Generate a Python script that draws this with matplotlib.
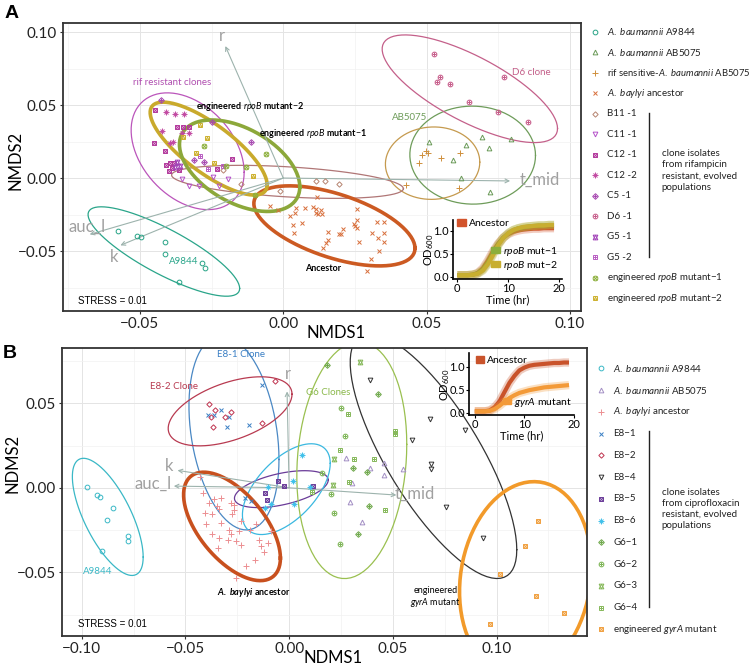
import matplotlib
matplotlib.use("Agg")
import matplotlib.pyplot as plt
import numpy as np
from matplotlib.patches import Patch
from matplotlib.ticker import FuncFormatter

plt.rcParams["font.family"] = ["Lato", "DejaVu Sans"]
plt.rcParams["mathtext.fontset"] = "custom"
plt.rcParams["mathtext.rm"] = "Lato"
plt.rcParams["mathtext.it"] = "Lato:italic"
plt.rcParams["mathtext.bf"] = "Lato:bold"
plt.rcParams["mathtext.bfit"] = "Lato:italic:bold"

# ---------------- panel A: NMDS scores (rifampicin) ----------------
a_a9844_x = [-0.0577, -0.0510, -0.0496, -0.0414, -0.0412, -0.0283, -0.0274, -0.0365]
a_a9844_y = [-0.0363, -0.0394, -0.0401, -0.0440, -0.0518, -0.0579, -0.0618, -0.0714]
a_ab5075_x = [0.0509, 0.0638, 0.0693, 0.0718, 0.0794, 0.0591, 0.0618, 0.0722]
a_ab5075_y = [0.0249, 0.0224, 0.0281, 0.0208, 0.0265, 0.0121, 0.0003, -0.0096]
a_rifsens_x = [0.0482, 0.0498, 0.0506, 0.0473, 0.0551, 0.0617, 0.0427, 0.0611]
a_rifsens_y = [0.0158, 0.0185, 0.0174, 0.0103, 0.0140, 0.0169, -0.0048, -0.0066]
a_anc_x = [0.0117, -0.0048, -0.0019, 0.0044, 0.0077, 0.0102, 0.0115, 0.0132, 0.0042, 0.0115,
           0.0135, 0.0120, 0.0022, 0.0065, 0.0033, 0.0036, 0.0257, 0.0257, 0.0251, 0.0245,
           0.0257, 0.0326, 0.0350, 0.0207, 0.0195, 0.0202, 0.0156, 0.0309, 0.0352, 0.0332,
           0.0156, 0.0150, 0.0265, 0.0352, 0.0138, 0.0334, 0.0307, 0.0292]
a_anc_y = [-0.0128, -0.0192, -0.0219, -0.0203, -0.0203, -0.0196, -0.0210, -0.0221, -0.0237, -0.0237,
           -0.0244, -0.0249, -0.0260, -0.0310, -0.0324, -0.0374, -0.0210, -0.0290, -0.0329, -0.0317,
           -0.0345, -0.0299, -0.0299, -0.0351, -0.0381, -0.0381, -0.0370, -0.0374, -0.0379, -0.0408,
           -0.0424, -0.0443, -0.0438, -0.0438, -0.0481, -0.0500, -0.0552, -0.0639]
a_b11_x = [-0.0210, -0.0146, -0.0010, 0.0113, 0.0146, 0.0195]
a_b11_y = [0.0053, -0.0039, -0.0089, -0.0018, -0.0023, -0.0041]
a_c11_x = [-0.0353, -0.0330, -0.0295, -0.0245, -0.0224, -0.0194]
a_c11_y = [-0.0005, -0.0055, -0.0055, 0.0007, -0.0055, -0.0005]
a_c12a_x = [-0.0446, -0.0370, -0.0351, -0.0330, -0.0449, -0.0413, -0.0408, -0.0394, -0.0382, -0.0388,
            -0.0365, -0.0400, -0.0179, -0.0231]
a_c12a_y = [0.0466, 0.0349, 0.0349, 0.0349, 0.0242, 0.0185, 0.0087, 0.0100, 0.0105, 0.0071,
            0.0053, 0.0048, 0.0132, 0.0064]
a_c12b_x = [-0.0408, -0.0376, -0.0347, -0.0423, -0.0353, -0.0328, -0.0394, -0.0386]
a_c12b_y = [0.0454, 0.0441, 0.0436, 0.0322, 0.0306, 0.0311, 0.0242, 0.0247]
a_c5_x = [-0.0425, -0.0249, -0.0111, -0.0312, -0.0278]
a_c5_y = [0.0534, 0.0384, 0.0247, 0.0123, 0.0110]
a_d6_x = [0.0526, 0.0545, 0.0537, 0.0580, 0.0646, 0.0768, 0.0748, 0.0854]
a_d6_y = [0.0852, 0.0692, 0.0655, 0.0641, 0.0523, 0.0694, 0.0452, 0.0384]
a_g5a_x = [-0.0370, -0.0359, -0.0376]
a_g5a_y = [0.0110, 0.0082, 0.0078]
a_g5b_x = [-0.0262, -0.0211, -0.0289]
a_g5b_y = [0.0064, 0.0084, 0.0151]
a_mut1_x = [-0.0275, -0.0199, -0.0130, -0.0059, -0.0098]
a_mut1_y = [0.0219, 0.0082, 0.0078, 0.0162, -0.0119]
a_mut2_x = [-0.0292, -0.0266, -0.0303, -0.0243, -0.0107, -0.0350]
a_mut2_y = [0.0363, 0.0276, 0.0174, 0.0100, 0.0014, 0.0283]

a_vec_names = ["r", "auc_l", "k", "t_mid"]
a_vec_x = [-0.0202, -0.0675, -0.0568, 0.0791]
a_vec_y = [0.0904, -0.0386, -0.0461, -0.0020]

# ---------------- panel B: NMDS scores (ciprofloxacin) ----------------
b_a9844_x = [-0.0976, -0.0924, -0.0914, -0.0849, -0.0876, -0.0779, -0.0778, -0.0900]
b_a9844_y = [0.0006, -0.0043, -0.0055, -0.0118, -0.0189, -0.0286, -0.0317, -0.0375]
b_ab5075_x = [0.0275, 0.0388, 0.0459, 0.0456, 0.0547, 0.0293, 0.0351, 0.0303]
b_ab5075_y = [0.0174, 0.0115, 0.0148, 0.0075, 0.0112, -0.0083, -0.0203, 0.0026]
b_anc_x = [-0.0430, -0.0417, -0.0361, -0.0328, -0.0385, -0.0348, -0.0406, -0.0374, -0.0337, -0.0280,
           -0.0264, -0.0267, -0.0277, -0.0399, -0.0328, -0.0372, -0.0337, -0.0288, -0.0240, -0.0187,
           -0.0159, -0.0087, -0.0296, -0.0256, -0.0232, -0.0143, -0.0135, -0.0103, -0.0119, -0.0167,
           -0.0208, -0.0256, -0.0345, -0.0280, -0.0232]
b_anc_y = [0.0063, -0.0030, -0.0069, -0.0059, -0.0089, -0.0105, -0.0148, -0.0154, -0.0124, -0.0089,
           -0.0103, -0.0134, -0.0154, -0.0217, -0.0207, -0.0276, -0.0296, -0.0252, -0.0256, -0.0247,
           -0.0217, -0.0256, -0.0306, -0.0316, -0.0339, -0.0310, -0.0345, -0.0325, -0.0379, -0.0430,
           -0.0465, -0.0536, -0.0355, -0.0276, -0.0197]
b_e81_x = [-0.0130, -0.0390, -0.0361, -0.0328, -0.0291, -0.0195, -0.0300, -0.0184, -0.0215]
b_e81_y = [0.0606, 0.0428, 0.0428, 0.0458, 0.0420, 0.0369, 0.0361, -0.0079, -0.0060]
b_e82_x = [-0.0066, -0.0388, -0.0359, -0.0280, -0.0308, -0.0377, -0.0369, -0.0130]
b_e82_y = [0.0631, 0.0493, 0.0462, 0.0450, 0.0420, 0.0418, 0.0361, 0.0385]
b_e84_x = [0.0391, 0.0678, 0.0847, 0.0593, 0.0683, 0.0683, 0.0757, 0.0936]
b_e84_y = [0.0636, 0.0408, 0.0340, 0.0280, 0.0138, 0.0109, -0.0112, -0.0296]
b_e85_x = [-0.0055, -0.0026, -0.0116, -0.0105, 0.0114]
b_e85_y = [0.0043, 0.0010, -0.0030, -0.0073, 0.0010]
b_e86_x = [0.0063, 0.0021, -0.0100, -0.0087, -0.0116, 0.0023, 0.0101]
b_e86_y = [0.0197, 0.0043, 0.0006, -0.0095, -0.0118, -0.0095, 0.0006]
b_g61_x = [0.0184, 0.0429, 0.0308, 0.0377, 0.0385, 0.0330]
b_g61_y = [0.0726, 0.0556, 0.0118, 0.0095, -0.0110, -0.0272]
b_g62_x = [0.0248, 0.0267, 0.0159, 0.0203, 0.0216, 0.0243]
b_g62_y = [0.0473, 0.0306, 0.0089, -0.0039, -0.0150, -0.0335]
b_g63_x = [0.0340, 0.0214, 0.0211]
b_g63_y = [0.0746, 0.0172, 0.0016]
b_g64_x = [0.0286, 0.0509, 0.0512, 0.0246, 0.0315, 0.0409, 0.0288, 0.0111, 0.0460]
b_g64_y = [0.0438, 0.0336, 0.0316, 0.0225, 0.0168, 0.0172, 0.0036, -0.0024, -0.0134]
b_gyra_x = [0.1201, 0.1137, 0.1019, 0.1188, 0.1325, 0.0968]
b_gyra_y = [-0.0197, -0.0347, -0.0509, -0.0643, -0.0743, -0.0805]

b_vec_names = ["r", "auc_l", "k", "t_mid"]
b_vec_x = [-0.0010, -0.0556, -0.0538, 0.0517]
b_vec_y = [0.0570, 0.0010, 0.0103, -0.0043]

# ---------------- growth curves (insets) ----------------
time_hr = [0, 1, 2, 3, 4, 5, 6, 7, 8, 9, 10, 11, 12, 13, 14, 15, 16, 17, 18, 19]
od_a_ancestor = [0.03, 0.03, 0.03, 0.04, 0.08, 0.18, 0.35, 0.55, 0.72, 0.85, 0.93, 0.98, 1.01, 1.03,
                 1.04, 1.05, 1.05, 1.06, 1.06, 1.06]
od_a_mut1 = [0.03, 0.03, 0.03, 0.04, 0.07, 0.15, 0.30, 0.50, 0.70, 0.85, 0.95, 1.02, 1.06, 1.08,
             1.10, 1.11, 1.12, 1.12, 1.13, 1.13]
od_a_mut2 = [0.03, 0.03, 0.03, 0.04, 0.06, 0.13, 0.27, 0.47, 0.68, 0.84, 0.95, 1.02, 1.06, 1.09,
             1.10, 1.11, 1.12, 1.12, 1.13, 1.13]
od_b_ancestor = [0.03, 0.03, 0.03, 0.05, 0.12, 0.25, 0.45, 0.65, 0.80, 0.92, 0.98, 1.02, 1.04, 1.05,
                 1.06, 1.07, 1.08, 1.08, 1.09, 1.09]
od_b_gyra = [0.03, 0.03, 0.03, 0.04, 0.08, 0.15, 0.24, 0.32, 0.38, 0.43, 0.46, 0.49, 0.51, 0.53,
             0.55, 0.56, 0.57, 0.58, 0.59, 0.60]

# ggplot point shapes built from matplotlib markers
SHAPES = {
    1: [("o", 1.0)], 2: [("^", 1.0)], 3: [("+", 1.3)], 4: [("x", 1.0)],
    5: [("D", 0.8)], 6: [("v", 1.0)], 7: [("s", 0.85), ("x", 0.8)],
    8: [("+", 1.2), ("x", 0.9)], 9: [("D", 0.85), ("+", 0.9)],
    10: [("o", 1.0), ("+", 1.0)], 11: [("^", 1.0), ("v", 1.0)],
    12: [("s", 0.85), ("+", 0.85)], 13: [("o", 1.0), ("x", 0.75)],
    14: [("s", 0.85), ("^", 0.6)],
}


def draw_points(ax, x, y, code, color, ms=3.4, zorder=3):
    for marker, scale in SHAPES[code]:
        ax.plot(x, y, ls="none", marker=marker, ms=ms * scale, mfc="none",
                mec=color, mew=0.7, zorder=zorder)


def stat_ellipse(x, y, level=0.95, segments=80):
    # normal-theory confidence ellipse of the group's scores
    pts = np.column_stack([x, y])
    center = pts.mean(axis=0)
    shape = np.cov(pts, rowvar=False)
    radius = np.sqrt(-2 * np.log(1 - level))
    t = np.linspace(0, 2 * np.pi, segments)
    circle = np.column_stack([np.cos(t), np.sin(t)])
    e = center + radius * circle @ np.linalg.cholesky(shape).T
    return e[:, 0], e[:, 1]


def minus(v, _):
    return f"{v:.2f}".replace("-", "\u2212")


def style_panel(ax, xlim, ylim, xticks, yticks):
    ax.set_xticks(xticks)
    ax.set_yticks(yticks)
    ax.set_xticks(np.arange(-0.125, 0.15, 0.05), minor=True)
    ax.set_yticks(np.arange(-0.125, 0.15, 0.05), minor=True)
    ax.set_xlim(xlim)
    ax.set_ylim(ylim)
    ax.grid(which="major", color="#e4e4e4", lw=0.7)
    ax.grid(which="minor", color="#f2f2f2", lw=0.5)
    ax.set_axisbelow(True)
    for s in ax.spines.values():
        s.set_color("#333333")
        s.set_linewidth(1.3)
    ax.tick_params(which="major", length=2.5, width=0.8, color="#333333",
                   labelsize=11, labelcolor="#222222", pad=2)
    ax.tick_params(which="minor", length=0)
    ax.xaxis.set_major_formatter(FuncFormatter(minus))
    ax.yaxis.set_major_formatter(FuncFormatter(minus))


def draw_vectors(ax, names, vx, vy, label_pos):
    for name, x, y in zip(names, vx, vy):
        ax.annotate("", xy=(x, y), xytext=(0, 0), zorder=2,
                    arrowprops=dict(arrowstyle="->", color="#9db3ad", lw=0.8,
                                    shrinkA=0, shrinkB=0, mutation_scale=7))
        lx, ly = label_pos[name]
        ax.text(lx, ly, name, color="#a0a0a0", fontsize=12, ha="center", va="center")


def draw_inset(ax, xlim, ylim):
    ax.set_facecolor("none")
    ax.set_xticks([0, 10, 20])
    ax.set_yticks([0.0, 0.5, 1.0])
    ax.set_xlim(xlim)
    ax.set_ylim(ylim)
    ax.yaxis.set_major_formatter(FuncFormatter(lambda v, _: f"{v:.1f}"))
    for side in ("top", "right"):
        ax.spines[side].set_visible(False)
    for side in ("left", "bottom"):
        ax.spines[side].set_linewidth(1.2)
    ax.tick_params(labelsize=8, length=2, pad=1)
    ax.set_xlabel("Time (hr)", fontsize=8, labelpad=0)
    ax.set_ylabel("OD$_{600}$", fontsize=8, labelpad=-2)


def curve(ax, y, color):
    ax.plot(time_hr, y, color=color, lw=6, alpha=0.3, solid_capstyle="butt")
    ax.plot(time_hr, y, color=color, lw=3, solid_capstyle="butt")


fig = plt.figure(figsize=(7.51, 6.68), dpi=100)

# ================= panel A =================
ax_a = fig.add_axes([0.0839, 0.5344, 0.6897, 0.4316])
style_panel(ax_a, (-0.0768, 0.1038), (-0.0911, 0.1064),
            [-0.05, 0.0, 0.05, 0.10], [-0.05, 0.0, 0.05, 0.10])

a_groups = [
    (a_a9844_x, a_a9844_y, 1, "#26a386"),
    (a_ab5075_x, a_ab5075_y, 2, "#6a9a58"),
    (a_rifsens_x, a_rifsens_y, 3, "#cf8f3c"),
    (a_anc_x, a_anc_y, 4, "#d86f3c"),
    (a_b11_x, a_b11_y, 5, "#b68470"),
    (a_c11_x, a_c11_y, 6, "#b552c9"),
    (a_c12a_x, a_c12a_y, 7, "#b2389c"),
    (a_c12b_x, a_c12b_y, 8, "#c24aa2"),
    (a_c5_x, a_c5_y, 9, "#a646b0"),
    (a_d6_x, a_d6_y, 10, "#c65a88"),
    (a_g5a_x, a_g5a_y, 11, "#a244b8"),
    (a_g5b_x, a_g5b_y, 12, "#b85cc2"),
    (a_mut1_x, a_mut1_y, 13, "#8caf3a"),
    (a_mut2_x, a_mut2_y, 14, "#cdb12e"),
]
rif_res_x = a_c11_x + a_c12a_x + a_c12b_x + a_c5_x + a_g5a_x + a_g5b_x
rif_res_y = a_c11_y + a_c12a_y + a_c12b_y + a_c5_y + a_g5a_y + a_g5b_y
a_ellipses = [
    (a_a9844_x, a_a9844_y, "#2aa58a", 0.9),
    (a_ab5075_x, a_ab5075_y, "#6e9c5a", 0.9),
    (a_rifsens_x, a_rifsens_y, "#c59a4e", 0.9),
    (a_b11_x, a_b11_y, "#b07676", 0.9),
    (a_d6_x, a_d6_y, "#c4608a", 0.9),
    (rif_res_x, rif_res_y, "#bb55bb", 0.9),
    (a_anc_x, a_anc_y, "#cc5a22", 2.6),
    (a_mut2_x, a_mut2_y, "#c9aa2c", 2.6),
    (a_mut1_x, a_mut1_y, "#8ca83a", 2.6),
]
for ex, ey, col, lw in a_ellipses:
    x_e, y_e = stat_ellipse(np.array(ex), np.array(ey))
    ax_a.plot(x_e, y_e, color=col, lw=lw, zorder=2)
for gx, gy, code, col in a_groups:
    draw_points(ax_a, gx, gy, code, col)
draw_vectors(ax_a, a_vec_names, a_vec_x, a_vec_y,
             {"r": (-0.0215, 0.0975), "auc_l": (-0.0683, -0.0331),
              "k": (-0.0589, -0.0543), "t_mid": (0.0895, -0.0009)})

ax_a.text(-0.0388, 0.0656, "rif resistant clones", color="#b04fb0", fontsize=7, ha="center", va="center")
ax_a.text(-0.0303, 0.0489, r"engineered $\it{rpoB}$ mutant$-$2", fontsize=6.5,
          weight="bold", ha="left", va="center")
ax_a.text(-0.0086, 0.0304, r"engineered $\it{rpoB}$ mutant$-$1", fontsize=6.5,
          weight="bold", ha="left", va="center")
ax_a.text(0.0139, -0.0621, "Ancestor", fontsize=6.5, weight="bold", ha="center", va="center")
ax_a.text(-0.0346, -0.0573, "A9844", color="#2aa58a", fontsize=7, ha="center", va="center")
ax_a.text(0.0797, 0.0726, "D6 clone", color="#c4608a", fontsize=7, ha="left", va="center")
ax_a.text(0.0439, 0.0414, "AB5075", color="#6e9c5a", fontsize=7, ha="center", va="center")
ax_a.text(-0.0714, -0.0842, "STRESS = 0.01", fontsize=7, ha="left", va="center",
          family=["Liberation Sans", "DejaVu Sans"])

in_a = fig.add_axes([0.6036, 0.5819, 0.1443, 0.0888])
draw_inset(in_a, (-0.8, 20.5), (-0.06, 1.24))
curve(in_a, od_a_ancestor, "#d2532b")
curve(in_a, od_a_mut1, "#8cae3c")
curve(in_a, od_a_mut2, "#c8ae30")
leg1 = in_a.legend(handles=[Patch(color="#d2532b", label="Ancestor")], loc="upper left",
                   bbox_to_anchor=(-0.02, 1.12), frameon=False, fontsize=7.5,
                   handlelength=0.8, handleheight=0.6, handletextpad=0.3, borderpad=0.1)
in_a.add_artist(leg1)
in_a.legend(handles=[Patch(color="#8cae3c", label=r"$\it{rpoB}$ mut$-$1"),
                     Patch(color="#c8ae30", label=r"$\it{rpoB}$ mut$-$2")],
            loc="lower right", bbox_to_anchor=(1.02, 0.02), frameon=False, fontsize=7.5,
            handlelength=0.8, handleheight=0.6, handletextpad=0.3, borderpad=0.1,
            labelspacing=0.1)

# ================= panel B =================
ax_b = fig.add_axes([0.0826, 0.0479, 0.6987, 0.4316])
style_panel(ax_b, (-0.1095, 0.1435), (-0.0877, 0.0829),
            [-0.10, -0.05, 0.0, 0.05, 0.10], [-0.05, 0.0, 0.05])

b_groups = [
    (b_a9844_x, b_a9844_y, 1, "#3ab8c6"),
    (b_ab5075_x, b_ab5075_y, 2, "#a38fc4"),
    (b_anc_x, b_anc_y, 3, "#ec8f92"),
    (b_e81_x, b_e81_y, 4, "#3a7fc4"),
    (b_e82_x, b_e82_y, 5, "#c03450"),
    (b_e84_x, b_e84_y, 6, "#333333"),
    (b_e85_x, b_e85_y, 7, "#6a3b98"),
    (b_e86_x, b_e86_y, 8, "#3ec0ea"),
    (b_g61_x, b_g61_y, 9, "#6ea84a"),
    (b_g62_x, b_g62_y, 10, "#7ab352"),
    (b_g63_x, b_g63_y, 11, "#86b85a"),
    (b_g64_x, b_g64_y, 12, "#86b85a"),
    (b_gyra_x, b_gyra_y, 7, "#f0a040"),
]
g6_x = b_g61_x + b_g62_x + b_g63_x + b_g64_x
g6_y = b_g61_y + b_g62_y + b_g63_y + b_g64_y
b_ellipses = [
    (b_a9844_x, b_a9844_y, "#3ab8c6", 0.9),
    (b_e81_x, b_e81_y, "#4a88c4", 0.9),
    (b_e82_x, b_e82_y, "#b83a50", 0.9),
    (b_e84_x, b_e84_y, "#333333", 0.9),
    (b_e85_x, b_e85_y, "#6a3b98", 0.9),
    (b_e86_x, b_e86_y, "#3ab8e0", 0.9),
    (g6_x, g6_y, "#9ac050", 0.9),
    (b_anc_x, b_anc_y, "#c8501e", 2.6),
    (b_gyra_x, b_gyra_y, "#f29a2a", 2.6),
]
for ex, ey, col, lw in b_ellipses:
    x_e, y_e = stat_ellipse(np.array(ex), np.array(ey))
    ax_b.plot(x_e, y_e, color=col, lw=lw, zorder=2)
for gx, gy, code, col in b_groups:
    draw_points(ax_b, gx, gy, code, col)
draw_vectors(ax_b, b_vec_names, b_vec_x, b_vec_y,
             {"r": (-0.0006, 0.0675), "auc_l": (-0.0657, 0.0022),
              "k": (-0.0580, 0.0128), "t_mid": (0.0604, -0.0037)})

ax_b.text(-0.0231, 0.0789, "E8-1 Clone", color="#3a7fc4", fontsize=7, ha="center", va="center")
ax_b.text(-0.0554, 0.0598, "E8-2 Clone", color="#b83a50", fontsize=7, ha="center", va="center")
ax_b.text(0.0187, 0.0562, "G6 Clones", color="#8ab84a", fontsize=7, ha="center", va="center")
ax_b.text(-0.0924, -0.0497, "A9844", color="#3ab8c6", fontsize=7, ha="center", va="center")
ax_b.text(-0.0172, -0.0621, r"$\mathbfit{A.\ baylyi}$ ancestor", fontsize=6.5, weight="bold",
          ha="center", va="center")
ax_b.text(0.0705, -0.0647, "engineered\n" + r"$\it{gyrA}$ mutant", fontsize=6.5,
          ha="center", va="center", linespacing=1.1)
ax_b.text(-0.1020, -0.0808, "STRESS = 0.01", fontsize=7, ha="left", va="center",
          family=["Liberation Sans", "DejaVu Sans"])

in_b = fig.add_axes([0.6249, 0.3787, 0.1394, 0.0924])
draw_inset(in_b, (-1.1, 20.0), (-0.05, 1.29))
curve(in_b, od_b_ancestor, "#c9532b")
curve(in_b, od_b_gyra, "#f39a38")
leg2 = in_b.legend(handles=[Patch(color="#c9532b", label="Ancestor")], loc="upper left",
                   bbox_to_anchor=(0.0, 1.05), frameon=False, fontsize=7.5,
                   handlelength=0.8, handleheight=0.6, handletextpad=0.3, borderpad=0.1)
in_b.add_artist(leg2)
in_b.legend(handles=[Patch(color="#f39a38", label=r"$\it{gyrA}$ mutant")],
            loc="lower right", bbox_to_anchor=(1.04, 0.0), frameon=False, fontsize=7.5,
            handlelength=0.8, handleheight=0.6, handletextpad=0.3, borderpad=0.1)

# ================= labels, titles, legends =================
fig.text(12 / 751, 1 - 13 / 668, "A", fontsize=14, weight="bold", ha="center", va="center",
         family=["Liberation Sans", "DejaVu Sans"])
fig.text(10 / 751, 1 - 353 / 668, "B", fontsize=14, weight="bold", ha="center", va="center",
         family=["Liberation Sans", "DejaVu Sans"])
fig.text(336 / 751, 1 - 333 / 668, "NMDS1", fontsize=12, ha="center", va="center")
fig.text(15 / 751, 1 - 160 / 668, "NMDS2", fontsize=12, ha="center", va="center", rotation=90)
fig.text(333 / 751, 1 - 658 / 668, "NDMS1", fontsize=12, ha="center", va="center")
fig.text(13 / 751, 1 - 463 / 668, "NDMS2", fontsize=12, ha="center", va="center", rotation=90)

leg_ax = fig.add_axes([0, 0, 1, 1])
leg_ax.set_xlim(0, 751)
leg_ax.set_ylim(668, 0)
leg_ax.axis("off")

a_labels = [r"$\it{A.\ baumannii}$ A9844", r"$\it{A.\ baumannii}$ AB5075",
            r"rif sensitive-$\it{A.\ baumannii}$ AB5075", r"$\it{A.\ baylyi}$ ancestor",
            "B11 -1", "C11 -1", "C12 -1", "C12 -2", "C5 -1", "D6 -1", "G5 -1", "G5 -2",
            r"engineered $\it{rpoB}$ mutant$-$1", r"engineered $\it{rpoB}$ mutant$-$2"]
for i, ((_, _, code, col), lab) in enumerate(zip(a_groups, a_labels)):
    yy = 31.7 + i * 20.5
    draw_points(leg_ax, [595], [yy], code, col)
    leg_ax.text(607, yy, lab, fontsize=6.8 if i == 2 else 7.0, ha="left", va="center",
                color="#222222")
leg_ax.plot([648.5, 648.5], [113, 257], color="#222222", lw=1.0)
leg_ax.text(661.7, 170.5, "clone isolates\nfrom rifampicin\nresistant, evolved\npopulations",
            fontsize=7.0, ha="left", va="center", linespacing=1.3, color="#222222")

b_labels = [r"$\it{A.\ baumannii}$ A9844", r"$\it{A.\ baumannii}$ AB5075",
            r"$\it{A.\ baylyi}$ ancestor", "E8\u22121", "E8\u22122", "E8\u22124", "E8\u22125",
            "E8\u22126", "G6\u22121", "G6\u22122", "G6\u22123", "G6\u22124",
            r"engineered $\it{gyrA}$ mutant"]
for i, ((_, _, code, col), lab) in enumerate(zip(b_groups, b_labels)):
    yy = 368.3 + i * 21.75
    draw_points(leg_ax, [601], [yy], code, col)
    leg_ax.text(613.3, yy, lab, fontsize=7.0, ha="left", va="center", color="#222222")
leg_ax.plot([649, 649], [431, 607], color="#222222", lw=1.0)
leg_ax.text(661.7, 508.7, "clone isolates\nfrom ciprofloxacin\nresistant, evolved\npopulations",
            fontsize=7.0, ha="left", va="center", linespacing=1.3, color="#222222")

fig.savefig("out.png", dpi=100)
